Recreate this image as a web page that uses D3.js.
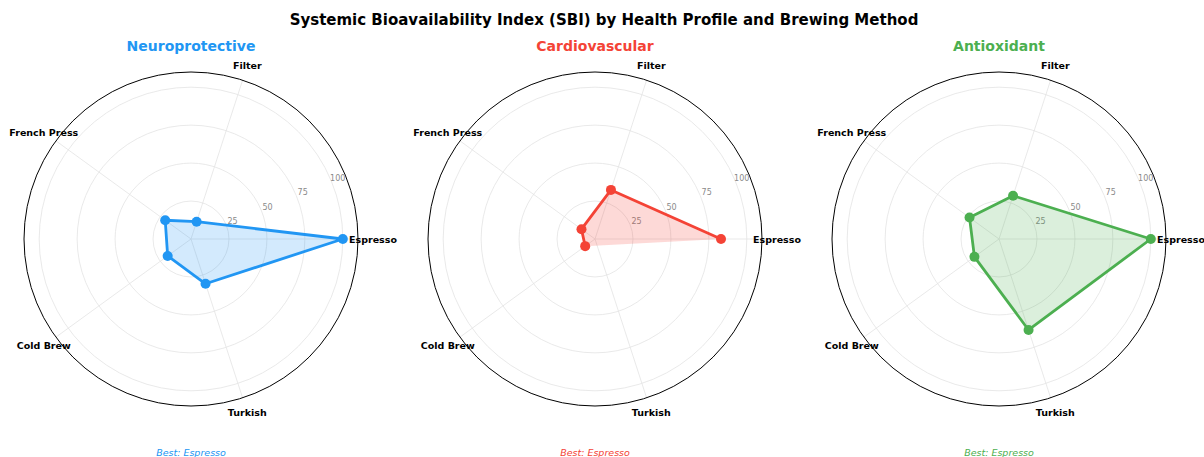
<!DOCTYPE html>
<html>
<head>
<meta charset="utf-8">
<script src="https://cdn.jsdelivr.net/npm/d3@7"></script>
<style>
  body { margin: 0; background: #fff; }
  svg { display: block; font-family: "DejaVu Sans", sans-serif; }
</style>
</head>
<body>
<svg id="chart"></svg>
<script>
// brewing methods (angular axes) and health profiles (one panel each)
const methods = ['Espresso', 'Filter', 'French Press', 'Cold Brew', 'Turkish'];
const profiles = ['Neuroprotective', 'Cardiovascular', 'Antioxidant'];
const profileColors = ['#2196F3', '#F44336', '#4CAF50'];

// SBI values per method, null = missing
const neuroValues = [100, 12, 21, 19, 31];
const cardioValues = [83, 34, 11, 8, null];
const antioxValues = [100, 30, 24, 20, 63];

const radialTicks = [25, 50, 75, 100];
const radialMax = 110;

const seriesValues = [neuroValues, cardioValues, antioxValues];

const width = 1204, height = 457;
const outerRadius = 167;
const centerY = 239;
const panelCenters = [191, 595, 999];

const svg = d3.select('#chart')
  .attr('width', width)
  .attr('height', height);

svg.append('rect').attr('width', width).attr('height', height).attr('fill', '#fff');

svg.append('text')
  .attr('x', 604).attr('y', 20)
  .attr('text-anchor', 'middle')
  .attr('dominant-baseline', 'central')
  .attr('font-size', 15)
  .attr('font-weight', 'bold')
  .text('Systemic Bioavailability Index (SBI) by Health Profile and Brewing Method');

const r = d3.scaleLinear().domain([0, radialMax]).range([0, outerRadius]);
const angle = d3.scaleLinear().domain([0, methods.length]).range([0, 2 * Math.PI]);

// polar -> svg coords, counter-clockwise from east
const px = (i, v) => r(v) * Math.cos(angle(i));
const py = (i, v) => -r(v) * Math.sin(angle(i));

profiles.forEach((profile, k) => {
  const values = seriesValues[k];
  const color = profileColors[k];
  const g = svg.append('g').attr('transform', `translate(${panelCenters[k]},${centerY})`);

  // grid circles
  g.selectAll('circle.grid')
    .data(radialTicks)
    .join('circle')
    .attr('class', 'grid')
    .attr('r', d => r(d))
    .attr('fill', 'none')
    .attr('stroke', '#e3e3e3')
    .attr('stroke-width', 0.8);

  // spokes
  g.selectAll('line.spoke')
    .data(methods)
    .join('line')
    .attr('class', 'spoke')
    .attr('x1', 0).attr('y1', 0)
    .attr('x2', (d, i) => px(i, radialMax))
    .attr('y2', (d, i) => py(i, radialMax))
    .attr('stroke', '#e3e3e3')
    .attr('stroke-width', 0.8);

  // outer spine
  g.append('circle')
    .attr('r', outerRadius)
    .attr('fill', 'none')
    .attr('stroke', '#000')
    .attr('stroke-width', 1);

  // radial tick labels at 22.5 deg
  const rlAngle = 22.5 * Math.PI / 180;
  g.selectAll('text.rtick')
    .data(radialTicks)
    .join('text')
    .attr('class', 'rtick')
    .attr('x', d => (r(d) + 7) * Math.cos(rlAngle))
    .attr('y', d => -(r(d) + 7) * Math.sin(rlAngle))
    .attr('text-anchor', 'middle')
    .attr('dominant-baseline', 'central')
    .attr('font-size', 8)
    .attr('fill', '#8a8a8a')
    .text(d => d);

  // method labels
  g.selectAll('text.method')
    .data(methods)
    .join('text')
    .attr('class', 'method')
    .attr('x', (d, i) => 182 * Math.cos(angle(i)))
    .attr('y', (d, i) => -182 * Math.sin(angle(i)))
    .attr('text-anchor', 'middle')
    .attr('dominant-baseline', 'central')
    .attr('font-size', 9.5)
    .attr('font-weight', 'bold')
    .text(d => d);

  const pts = values.map((v, i) => ({ i, v }));
  const closed = pts.concat([pts[0]]);

  // fill
  g.append('path')
    .datum(pts.filter(d => d.v != null))
    .attr('fill', color)
    .attr('fill-opacity', 0.2)
    .attr('d', d3.line().x(d => px(d.i, d.v)).y(d => py(d.i, d.v)).curve(d3.curveLinearClosed));

  // outline, broken where data is missing
  g.append('path')
    .datum(closed)
    .attr('fill', 'none')
    .attr('stroke', color)
    .attr('stroke-width', 2.8)
    .attr('stroke-linejoin', 'round')
    .attr('d', d3.line().defined(d => d.v != null).x(d => px(d.i, d.v)).y(d => py(d.i, d.v)));

  g.selectAll('circle.pt')
    .data(pts.filter(d => d.v != null))
    .join('circle')
    .attr('class', 'pt')
    .attr('cx', d => px(d.i, d.v))
    .attr('cy', d => py(d.i, d.v))
    .attr('r', 5)
    .attr('fill', color);

  // panel title
  g.append('text')
    .attr('x', 0).attr('y', 46 - centerY)
    .attr('text-anchor', 'middle')
    .attr('dominant-baseline', 'central')
    .attr('font-size', 14)
    .attr('font-weight', 'bold')
    .attr('fill', color)
    .text(profile);

  // best method note
  const best = methods[d3.maxIndex(values)];
  g.append('text')
    .attr('x', 0).attr('y', 452 - centerY)
    .attr('text-anchor', 'middle')
    .attr('dominant-baseline', 'central')
    .attr('font-size', 9.5)
    .attr('font-style', 'italic')
    .attr('fill', color)
    .text(`Best: ${best}`);
});
</script>
</body>
</html>
